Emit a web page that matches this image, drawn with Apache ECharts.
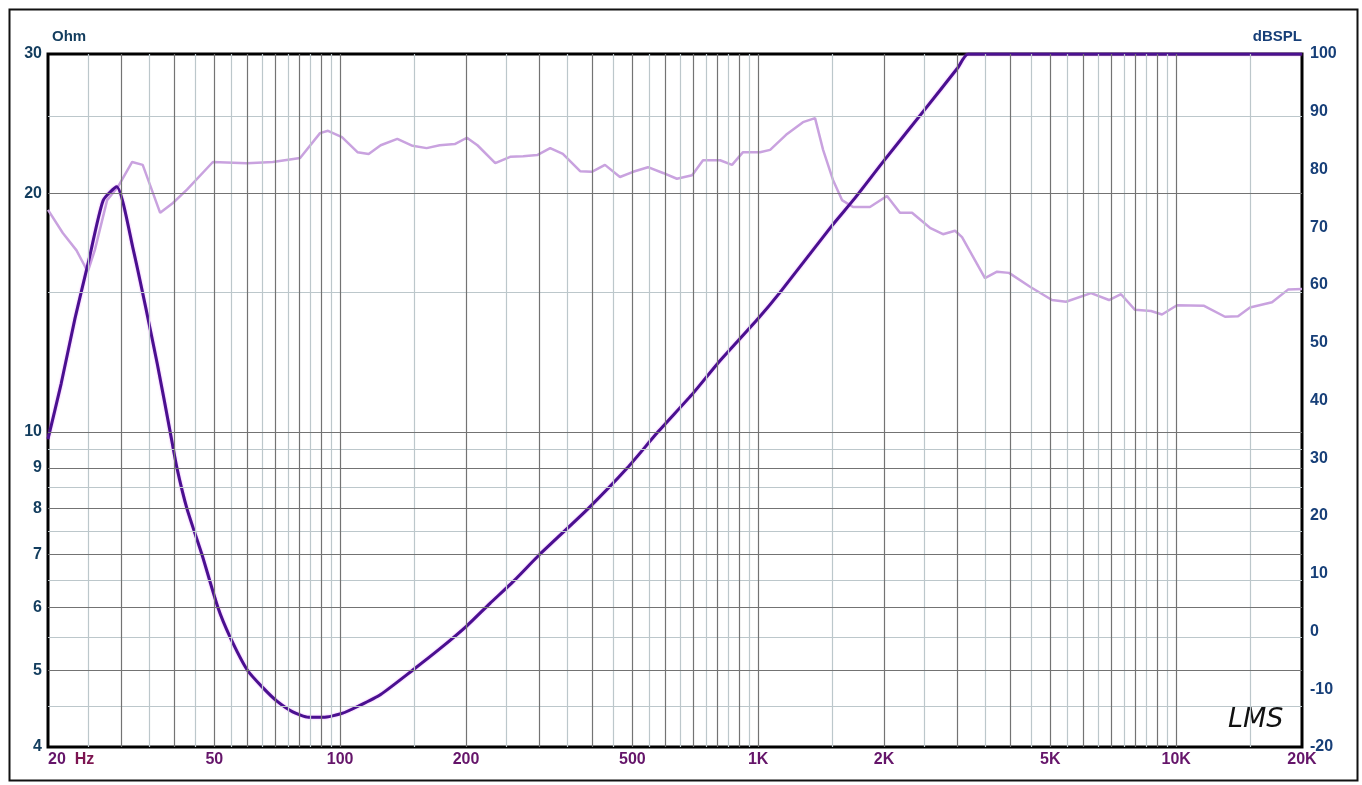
<!DOCTYPE html>
<html><head><meta charset="utf-8">
<script src="https://cdn.jsdelivr.net/npm/echarts@6/dist/echarts.min.js"></script>
<style>html,body{margin:0;padding:0;background:#fff}#c{width:1362px;height:785px}</style>
</head><body><div id="c"></div>
<script>
// Impedance curve (Hz, Ohm)
const impFreq = [20, 21.5, 23.2, 25, 27.1, 29.2, 31.9, 36.5, 39.2, 40.7, 43, 46.7, 51, 54.5, 60, 65.4, 70.6, 77, 84, 91, 101, 111, 125, 149, 173, 201, 228, 260, 300, 392, 486, 576, 700, 800, 1000, 1128, 1500, 1700, 2000, 2500, 3000, 3180, 20000];
const impOhm  = [9.8, 11.5, 13.9, 16.4, 19.6, 20.4, 17.1, 12.2, 10.0, 9.0, 8.0, 7.0, 6.0, 5.51, 5.0, 4.75, 4.57, 4.43, 4.36, 4.36, 4.41, 4.51, 4.66, 5.0, 5.32, 5.69, 6.07, 6.48, 7.0, 8.0, 9.0, 10.0, 11.2, 12.2, 13.9, 15.0, 18.2, 19.7, 22.0, 25.5, 28.8, 30, 30];
// SPL curve (Hz, dB)
const splFreq = [20, 21.7, 23.4, 24.9, 25.9, 27.7, 29.4, 31.8, 33.7, 37.1, 39.8, 43, 49.6, 59.8, 69, 80.2, 89.5, 93.5, 101, 110, 117, 125, 137, 149, 161, 173, 188, 201, 213, 235, 255, 274, 296, 318, 341, 375, 400, 430, 467, 502, 545, 592, 639, 695, 738, 811, 866, 920, 1010, 1068, 1166, 1280, 1368, 1430, 1510, 1587, 1686, 1851, 2033, 2184, 2334, 2576, 2768, 2958, 3074, 3488, 3728, 3982, 4470, 5046, 5450, 6256, 6908, 7380, 7972, 8708, 9248, 10046, 11662, 13086, 14062, 15016, 16954, 18516, 20000];
const splDb   = [73.0, 69.0, 66.0, 62.3, 66.1, 74.7, 77.0, 81.3, 80.8, 72.5, 74.2, 76.5, 81.3, 81.1, 81.3, 82.0, 86.3, 86.7, 85.6, 83.0, 82.7, 84.2, 85.3, 84.1, 83.7, 84.2, 84.4, 85.5, 84.2, 81.1, 82.2, 82.3, 82.5, 83.7, 82.7, 79.7, 79.6, 80.8, 78.7, 79.6, 80.4, 79.4, 78.4, 79.0, 81.6, 81.6, 80.8, 83.0, 83.0, 83.4, 86.0, 88.2, 88.9, 83.4, 78.2, 74.7, 73.5, 73.5, 75.4, 72.5, 72.5, 69.9, 68.8, 69.4, 68.3, 61.2, 62.3, 62.1, 59.7, 57.4, 57.1, 58.6, 57.4, 58.4, 55.7, 55.5, 54.9, 56.5, 56.4, 54.5, 54.6, 56.1, 57.0, 59.2, 59.3];

// Tick labels and grid positions
const freqLabelVals = [20, 50, 100, 200, 500, 1000, 2000, 5000, 10000, 20000];
const freqLabelText = ['{n|20}  {u|Hz}', '50', '100', '200', '500', '1K', '2K', '5K', '10K', '20K'];
const ohmLabelVals = [30, 20, 10, 9, 8, 7, 6, 5, 4];
const freqMajor = [30, 40, 50, 60, 70, 80, 90, 100, 200, 300, 400, 500, 600, 700, 800, 900, 1000, 2000, 3000, 4000, 5000, 6000, 7000, 8000, 9000, 10000];
const freqMinor = [25, 35, 45, 55, 65, 75, 85, 95, 150, 250, 350, 450, 550, 650, 750, 850, 950, 1500, 2500, 3500, 4500, 5500, 6500, 7500, 8500, 9500, 15000];
const ohmMajor = [5, 6, 7, 8, 9, 10, 20];
const ohmMinor = [4.5, 5.5, 6.5, 7.5, 8.5, 9.5, 15, 25];

const MAJOR = '#737373', MINOR = '#bcc7cb';
const FONT = 'Liberation Sans, Arial, sans-serif';
const XCOL = '#65156a';
const gridLines = [];
freqMinor.forEach(v => gridLines.push({ xAxis: v, lineStyle: { color: MINOR } }));
ohmMinor.forEach(v => gridLines.push({ yAxis: v, lineStyle: { color: MINOR } }));
freqMajor.forEach(v => gridLines.push({ xAxis: v, lineStyle: { color: MAJOR } }));
ohmMajor.forEach(v => gridLines.push({ yAxis: v, lineStyle: { color: MAJOR } }));

const labelFont = { fontFamily: FONT, fontWeight: 'bold', fontSize: 16, opacity: 1 };
const labelLines = [];
ohmLabelVals.forEach(v => labelLines.push({
  yAxis: v, lineStyle: { color: 'rgba(0,0,0,0)', width: 0.1 },
  label: Object.assign({ show: true, position: 'start', distance: 6, formatter: String(v), color: '#133d5e' }, labelFont)
}));
freqLabelVals.forEach((v, i) => labelLines.push({
  xAxis: v, lineStyle: { color: 'rgba(0,0,0,0)', width: 0.1 },
  label: Object.assign({ show: true, position: 'start', distance: 5, formatter: freqLabelText[i], color: XCOL,
    rich: {
      n: { color: XCOL, fontFamily: FONT, fontWeight: 'bold', fontSize: 16 },
      u: { color: '#7c1450', fontFamily: FONT, fontWeight: 'bold', fontSize: 16 }
    } }, labelFont, i === 0 ? { align: 'left' } : {})
}));

const chart = echarts.init(document.getElementById('c'), null, { renderer: 'canvas' });
chart.setOption({
  animation: false,
  backgroundColor: '#ffffff',
  grid: { left: 48, right: 60, top: 54, bottom: 38, show: true, borderColor: '#000', borderWidth: 3, backgroundColor: 'transparent' },
  xAxis: {
    type: 'log', logBase: 10, min: 20, max: 20000,
    axisLine: { show: false }, axisTick: { show: false }, axisLabel: { show: false },
    splitLine: { show: false }, minorSplitLine: { show: false }
  },
  yAxis: [{
    type: 'log', logBase: 10, min: 4, max: 30,
    name: 'Ohm', nameLocation: 'end', nameGap: 10,
    nameTextStyle: { color: '#133d5e', fontWeight: 'bold', fontSize: 15, fontFamily: FONT, align: 'left', verticalAlign: 'bottom', padding: [0, 0, 0, 4] },
    axisLine: { show: false }, axisTick: { show: false }, axisLabel: { show: false },
    splitLine: { show: false }
  }, {
    type: 'value', min: -20, max: 100, interval: 10, position: 'right',
    name: 'dBSPL', nameLocation: 'end', nameGap: 10,
    nameTextStyle: { color: '#173f78', fontWeight: 'bold', fontSize: 15, fontFamily: FONT, align: 'right', verticalAlign: 'bottom', padding: [0, 0, 0, 0] },
    axisLine: { show: false }, axisTick: { show: false },
    axisLabel: Object.assign({ color: '#173f78', margin: 8 }, labelFont),
    splitLine: { show: false }
  }],
  series: [{
    type: 'line', name: 'grid', xAxisIndex: 0, yAxisIndex: 0, data: [], z: 1, silent: true,
    markLine: { silent: true, symbol: ['none', 'none'], animation: false, label: { show: false },
      lineStyle: { type: 'solid', width: 1.2 }, data: gridLines }
  }, {
    type: 'line', name: 'labels', xAxisIndex: 0, yAxisIndex: 0, data: [], z: 5, silent: true,
    markLine: { silent: true, symbol: ['none', 'none'], animation: false,
      label: { show: true },
      lineStyle: { type: 'solid', width: 0.1, color: 'rgba(0,0,0,0)' }, data: labelLines }
  }, {
    type: 'line', name: 'SPL', xAxisIndex: 0, yAxisIndex: 1, z: 2,
    data: splFreq.map((f, i) => [f, splDb[i]]),
    showSymbol: false, smooth: false,
    lineStyle: { color: '#c9a2df', width: 2.5 }
  }, {
    type: 'line', name: 'Impedance', xAxisIndex: 0, yAxisIndex: 0, z: 3,
    data: impFreq.map((f, i) => [f, impOhm[i]]),
    showSymbol: false, smooth: 0.2,
    lineStyle: { color: '#4a1090', width: 3, shadowColor: 'rgba(220,90,255,0.6)', shadowBlur: 2 }
  }],
  graphic: [{
    type: 'rect', left: 7, top: 7, silent: true,
    shape: { x: 0, y: 0, width: 1348, height: 771 },
    style: { fill: 'none', stroke: '#111', lineWidth: 2 }
  }, {
    type: 'text', left: 1228, top: 706, silent: true,
    style: { text: 'LMS', fill: '#111', font: 'italic 27px "DejaVu Sans", sans-serif' }
  }]
});
</script></body></html>
